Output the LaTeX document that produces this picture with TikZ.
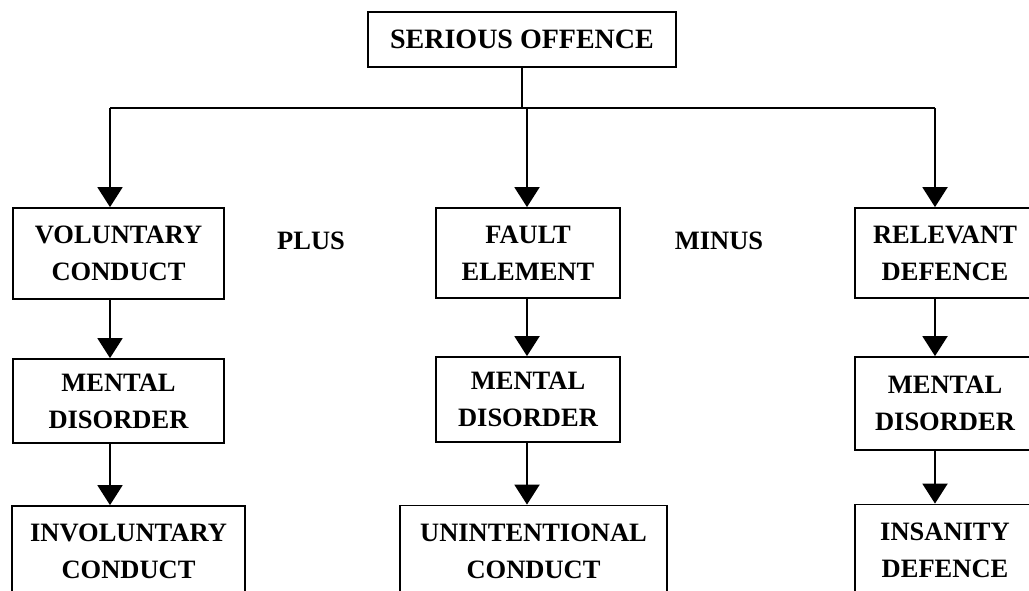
\documentclass[tikz,border=0pt]{standalone}
\usepackage{fontspec}
\setmainfont{Liberation Serif}
\usetikzlibrary{arrows.meta}
\begin{document}
\begin{tikzpicture}[x=1pt,y=-1pt,
  box/.style={draw, line width=1.8pt, inner sep=0pt, align=center,
              font=\fontsize{26.5}{37}\selectfont\bfseries},
  word/.style={inner sep=0pt, font=\fontsize{26.5}{37}\selectfont\bfseries},
  link/.style={line width=2pt},
  arr/.style={line width=2pt, -{Triangle[length=20pt,width=25pt]}}]
% page area
\clip (0,0) rectangle (1029,590);
\fill[white] (0,0) rectangle (1029,590);

% top of the tree
\node[box, font=\fontsize{28}{35}\selectfont\bfseries, minimum width=308pt, minimum height=55pt]
  (top) at (522,39.5) {SERIOUS OFFENCE};

% first row
\node[box, minimum width=211pt, minimum height=91pt] (vc) at (118.5,253.5) {VOLUNTARY\\CONDUCT};
\node[box, minimum width=184pt, minimum height=90pt] (fe) at (528,253) {FAULT\\ELEMENT};
\node[box, minimum width=180pt, minimum height=90pt] (rd) at (945,253) {RELEVANT\\DEFENCE};

\node[word, anchor=base] (plus)  at (311,249) {PLUS};
\node[word, anchor=base] (minus) at (719,249) {MINUS};

% second row
\node[box, minimum width=211pt, minimum height=84pt] (md1) at (118.5,401) {MENTAL\\DISORDER};
\node[box, minimum width=184pt, minimum height=85pt] (md2) at (528,399.5) {MENTAL\\DISORDER};
\node[box, minimum width=180pt, minimum height=93pt] (md3) at (945,403.5) {MENTAL\\DISORDER};

% third row
\node[box, minimum width=233pt, minimum height=91pt] (ic) at (128.5,551.5) {INVOLUNTARY\\CONDUCT};
\node[box, minimum width=267pt, minimum height=91pt] (uc) at (533.5,551) {UNINTENTIONAL\\CONDUCT};
\node[box, minimum width=180pt, minimum height=91pt] (id) at (945,550) {INSANITY\\DEFENCE};

% branching bus
\coordinate (cL) at (110,108);
\coordinate (cM) at (527,108);
\coordinate (cR) at (935,108);

\draw[link] (top.south) -- (top.south |- cM);
\draw[link] (cL) -- (cR);

\draw[arr] (cL) -- (cL |- vc.north);
\draw[arr] (cM) -- (cM |- fe.north);
\draw[arr] (cR) -- (cR |- rd.north);

\draw[arr] (vc.south -| cL) -- (md1.north -| cL);
\draw[arr] (fe.south -| cM) -- (md2.north -| cM);
\draw[arr] (rd.south -| cR) -- (md3.north -| cR);

\draw[arr] (md1.south -| cL) -- (ic.north -| cL);
\draw[arr] (md2.south -| cM) -- (uc.north -| cM);
\draw[arr] (md3.south -| cR) -- (id.north -| cR);
\end{tikzpicture}
\end{document}
